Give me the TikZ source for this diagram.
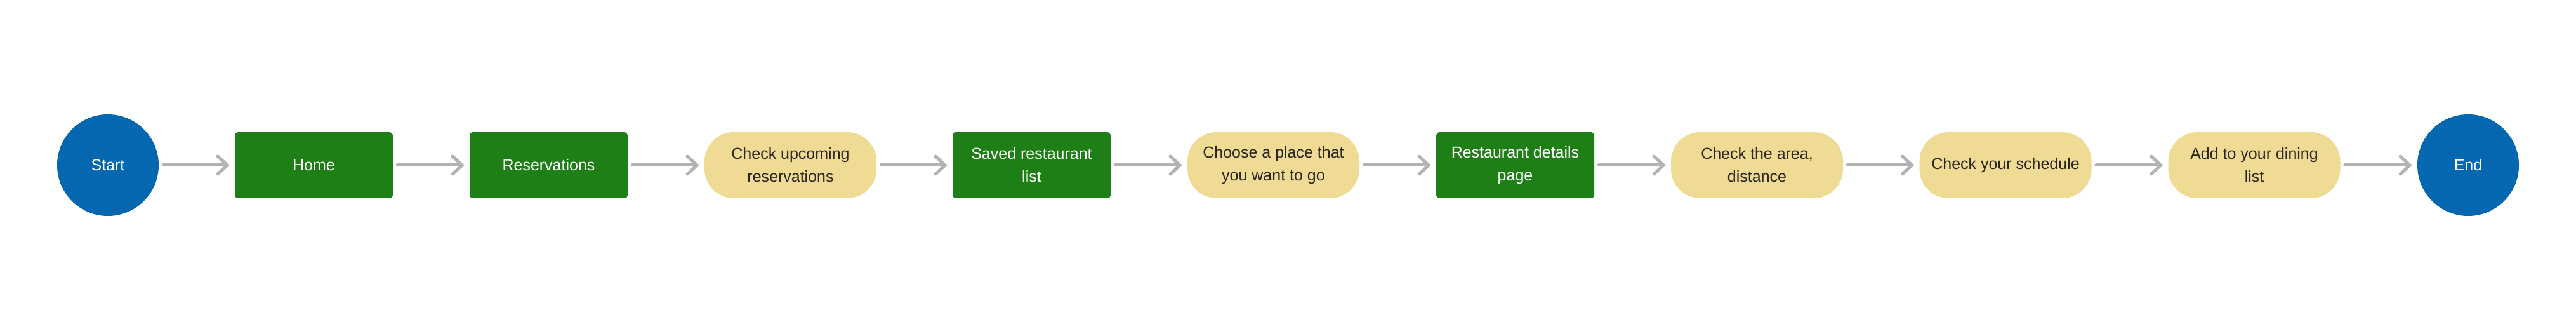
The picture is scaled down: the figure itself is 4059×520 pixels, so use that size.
\documentclass[tikz,border=0pt]{standalone}
\usepackage{fontspec}
\setmainfont{Liberation Sans}
\usetikzlibrary{arrows.meta}
\definecolor{cblue}{HTML}{0567B0}
\definecolor{cgreen}{HTML}{1E7F16}
\definecolor{cyellow}{HTML}{F0DB94}
\definecolor{ctext}{HTML}{2A2620}
\definecolor{carrow}{HTML}{B3B3B3}
\tikzset{
  base/.style={inner sep=0pt, align=center, font=\fontsize{25}{36}\selectfont},
  endpt/.style={base, circle, fill=cblue, text=white, minimum size=160pt},
  screen/.style={base, rectangle, rounded corners=5pt, fill=cgreen, text=white, minimum width=249pt, minimum height=104pt},
  action/.style={base, rectangle, rounded corners=46pt, fill=cyellow, text=ctext, minimum width=271pt, minimum height=104pt},
  flow/.style={draw=carrow, line width=5pt, line cap=round, shorten <=7pt, shorten >=8pt,
    -{Straight Barb[length=15pt, width=28pt, line cap=round]}}
}
\begin{document}
\begin{tikzpicture}[x=1pt,y=1pt]
\useasboundingbox (0,0) rectangle (4059,520);
\fill[white] (0,0) rectangle (4059,520);
\node[endpt] (start) at (170,260) {Start};
\node[screen] (home) at (494.5,260) {Home};
\node[screen] (res) at (864.5,260) {Reservations};
\node[action] (upc) at (1245.5,260) {Check upcoming\\reservations};
\node[screen] (saved) at (1625.5,260) {Saved restaurant\\list};
\node[action] (choose) at (2006.5,260) {Choose a place that\\you want to go};
\node[screen] (details) at (2387.5,260) {Restaurant details\\page};
\node[action] (area) at (2768.5,260) {Check the area,\\distance};
\node[action] (sched) at (3160,260) {Check your schedule};
\node[action] (add) at (3552,260) {Add to your dining\\list};
\node[endpt] (end) at (3889,260) {End};
\draw[flow] (start) -- (home);
\draw[flow] (home) -- (res);
\draw[flow] (res) -- (upc);
\draw[flow] (upc) -- (saved);
\draw[flow] (saved) -- (choose);
\draw[flow] (choose) -- (details);
\draw[flow] (details) -- (area);
\draw[flow] (area) -- (sched);
\draw[flow] (sched) -- (add);
\draw[flow] (add) -- (end);
\end{tikzpicture}
\end{document}
